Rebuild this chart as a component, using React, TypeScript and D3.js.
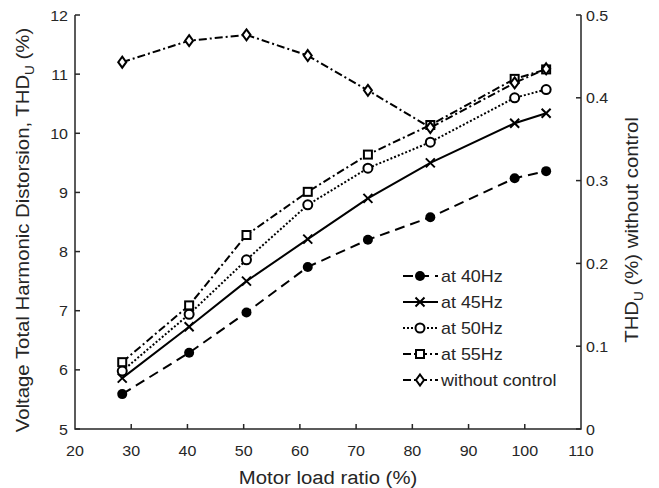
import * as d3 from 'd3'

const W = 659
const H = 488
const M = { top: 15, right: 78, bottom: 59, left: 75 }

const loads = [28.4, 40.3, 50.5, 61.4, 72.1, 83.2, 98.2, 103.8]
const hz40 = [5.59, 6.29, 6.97, 7.74, 8.2, 8.58, 9.24, 9.36]
const hz45 = [5.86, 6.73, 7.5, 8.21, 8.9, 9.5, 10.17, 10.34]
const hz50 = [5.98, 6.94, 7.86, 8.79, 9.41, 9.85, 10.6, 10.74]
const hz55 = [6.13, 7.09, 8.28, 9.01, 9.64, 10.14, 10.92, 11.08]
const noControl = [0.443, 0.469, 0.476, 0.451, 0.409, 0.364, 0.418, 0.435]

const xTicks = [20, 30, 40, 50, 60, 70, 80, 90, 100, 110]
const yTicks = [5, 6, 7, 8, 9, 10, 11, 12]
const y2Ticks = [0, 0.1, 0.2, 0.3, 0.4, 0.5]

type Marker = 'dot' | 'x' | 'circle' | 'square' | 'diamond'

const series: { label: string; values: number[]; right: boolean; dash: string; marker: Marker }[] = [
  { label: 'at 40Hz', values: hz40, right: false, dash: '10,6', marker: 'dot' },
  { label: 'at 45Hz', values: hz45, right: false, dash: '', marker: 'x' },
  { label: 'at 50Hz', values: hz50, right: false, dash: '2,2', marker: 'circle' },
  { label: 'at 55Hz', values: hz55, right: false, dash: '8,3,2,3', marker: 'square' },
  { label: 'without control', values: noControl, right: true, dash: '8,3,2,3', marker: 'diamond' },
]

const FONT = '"Liberation Sans", Arial, sans-serif'
const INK = '#262626'
// the source figure's text is a little wider than it is tall
const STRETCH = 1.13

function MarkerShape({ kind, cx, cy }: { kind: Marker; cx: number; cy: number }) {
  const s = 'black'
  if (kind === 'dot') return <circle cx={cx} cy={cy} r={5} fill={s} />
  if (kind === 'x')
    return (
      <path d={`M${cx - 4.5},${cy - 4.5}L${cx + 4.5},${cy + 4.5}M${cx - 4.5},${cy + 4.5}L${cx + 4.5},${cy - 4.5}`}
        stroke={s} strokeWidth={2} />
    )
  if (kind === 'circle') return <circle cx={cx} cy={cy} r={4.5} fill="white" stroke={s} strokeWidth={2} />
  if (kind === 'square')
    return <rect x={cx - 4} y={cy - 4} width={8} height={8} fill="white" stroke={s} strokeWidth={2} />
  return (
    <path d={`M${cx},${cy - 5.5}L${cx + 4},${cy}L${cx},${cy + 5.5}L${cx - 4},${cy}Z`}
      fill="white" stroke={s} strokeWidth={2} />
  )
}

export default function App() {
  const x = d3.scaleLinear().domain([20, 110]).range([M.left, W - M.right])
  const y = d3.scaleLinear().domain([5, 12]).range([H - M.bottom, M.top])
  const y2 = d3.scaleLinear().domain([0, 0.5]).range([H - M.bottom, M.top])

  const x0 = M.left
  const x1 = W - M.right
  const yb = H - M.bottom
  const midY = (M.top + yb) / 2 + 8

  const legendX = 403
  const legendY = 276
  const legendStep = 26

  return (
    <svg width={W} height={H} style={{ position: 'absolute', left: 0, top: 0, background: 'white' }}
      fontFamily={FONT}>
      {/* axes */}
      <path d={`M${x0},${M.top}V${yb}H${x1}V${M.top}`} fill="none" stroke={INK} strokeWidth={1.5} />
      {xTicks.map(t => (
        <g key={t}>
          {t > 20 && t < 110 && <line x1={x(t)} x2={x(t)} y1={yb} y2={yb - 5} stroke={INK} strokeWidth={1.5} />}
          <text transform={`translate(${x(t)},${yb + 27}) scale(1.07,1)`} textAnchor="middle" fontSize={15} fill={INK}>{t}</text>
        </g>
      ))}
      {yTicks.map(t => (
        <g key={t}>
          <line x1={x0} x2={x0 + 5} y1={y(t)} y2={y(t)} stroke={INK} strokeWidth={1.5} />
          <text transform={`translate(${x0 - 7},${y(t) + 5.5}) scale(1.07,1)`} textAnchor="end" fontSize={15} fill={INK}>{t}</text>
        </g>
      ))}
      {y2Ticks.map(t => (
        <g key={t}>
          <line x1={x1} x2={x1 - 5} y1={y2(t)} y2={y2(t)} stroke={INK} strokeWidth={1.5} />
          <text transform={`translate(${x1 + 5},${y2(t) + 5.5}) scale(1.07,1)`} textAnchor="start" fontSize={15} fill={INK}>
            {t === 0 ? '0' : t.toFixed(1)}
          </text>
        </g>
      ))}

      {/* axis titles */}
      <text transform={`translate(${(x0 + x1) / 2},${H - 4}) scale(${STRETCH},1)`} textAnchor="middle" fontSize={18} fill={INK}>
        Motor load ratio (%)
      </text>
      <text transform={`translate(29,${midY}) rotate(-90) scale(${STRETCH},1)`} textAnchor="middle" fontSize={18} fill={INK}>
        Voltage Total Harmonic Distorsion, THD<tspan fontSize={12} dy={5}>U</tspan><tspan dy={-5}> (%)</tspan>
      </text>
      <text transform={`translate(638,${midY}) rotate(-90) scale(${STRETCH},1)`} textAnchor="middle" fontSize={18} fill={INK}>
        THD<tspan fontSize={12} dy={5}>U</tspan><tspan dy={-5}> (%) without control</tspan>
      </text>

      {/* series */}
      {series.map(s => {
        const yy = s.right ? y2 : y
        const line = d3.line<number>().x((_, i) => x(loads[i])).y(v => yy(v))
        return (
          <g key={s.label}>
            <path d={line(s.values) ?? ''} fill="none" stroke="black" strokeWidth={2}
              strokeDasharray={s.dash || undefined} />
            {s.values.map((v, i) => (
              <MarkerShape key={i} kind={s.marker} cx={x(loads[i])} cy={yy(v)} />
            ))}
          </g>
        )
      })}

      {/* legend */}
      {series.map((s, i) => {
        const ly = legendY + i * legendStep
        return (
          <g key={s.label}>
            <line x1={legendX} x2={legendX + 35} y1={ly} y2={ly} stroke="black" strokeWidth={2}
              strokeDasharray={s.dash || undefined} />
            <MarkerShape kind={s.marker} cx={legendX + 17} cy={ly} />
            <text transform={`translate(${legendX + 38},${ly + 5.5}) scale(1.12,1)`} fontSize={16} fill={INK}>{s.label}</text>
          </g>
        )
      })}
    </svg>
  )
}
